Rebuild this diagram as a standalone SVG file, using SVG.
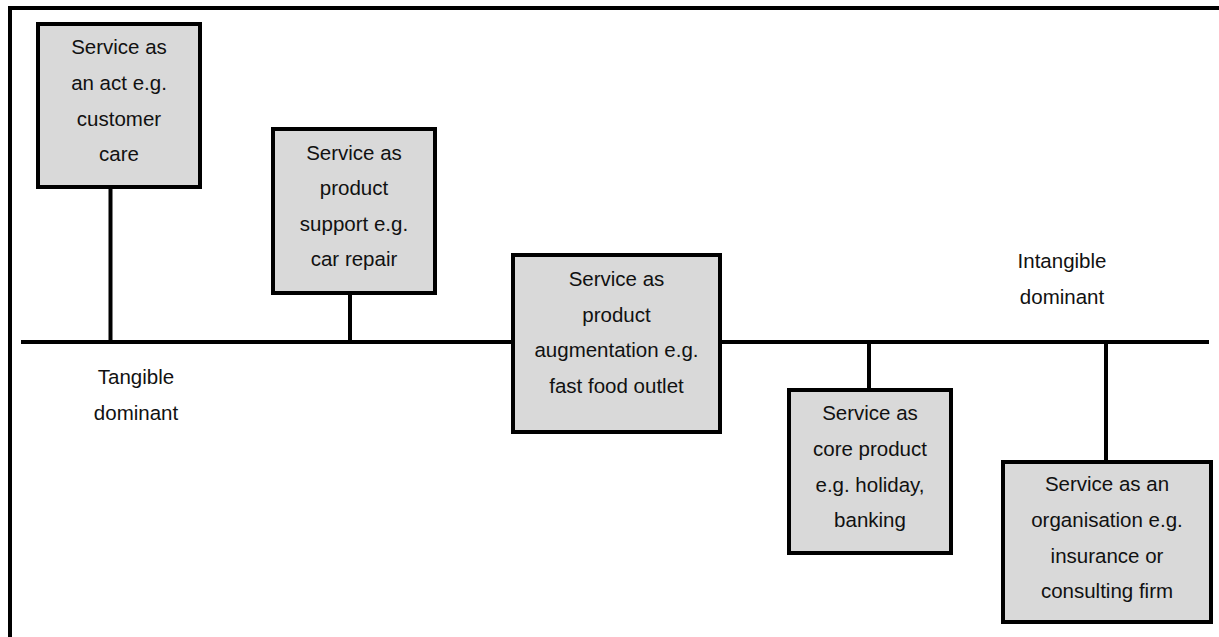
<svg xmlns="http://www.w3.org/2000/svg" width="1219" height="637" viewBox="0 0 1219 637">
  <style>
    .box { fill: #d9d9d9; stroke: #000; stroke-width: 4; }
    .line { stroke: #000; stroke-width: 4; fill: none; }
    text { font-family: "Liberation Sans", Arial, sans-serif; font-size: 20.5px; fill: #111; text-anchor: middle; }
  </style>
  <rect width="1219" height="637" fill="#fff"/>
  <!-- open frame: top and left edges -->
  <path class="line" d="M10 637 V8 H1219"/>

  <g id="connectors">
    <line class="line" x1="21" y1="342" x2="1209" y2="342"/>
    <line class="line" x1="110.5" y1="189" x2="110.5" y2="342"/>
    <line class="line" x1="350" y1="295" x2="350" y2="342"/>
    <line class="line" x1="869" y1="342" x2="869" y2="388"/>
    <line class="line" x1="1106" y1="342" x2="1106" y2="460"/>
  </g>

  <g id="label-tangible">
    <text x="136" y="384">Tangible</text>
    <text x="136" y="420">dominant</text>
  </g>
  <g id="label-intangible">
    <text x="1062" y="268">Intangible</text>
    <text x="1062" y="304">dominant</text>
  </g>

  <g id="node-act">
    <rect class="box" x="38" y="24" width="162" height="163"/>
    <text x="119" y="54">Service as</text>
    <text x="119" y="90">an act e.g.</text>
    <text x="119" y="126">customer</text>
    <text x="119" y="161">care</text>
  </g>

  <g id="node-support">
    <rect class="box" x="273" y="129" width="162" height="164"/>
    <text x="354" y="160">Service as</text>
    <text x="354" y="195">product</text>
    <text x="354" y="231">support e.g.</text>
    <text x="354" y="266">car repair</text>
  </g>

  <g id="node-augmentation">
    <rect class="box" x="513" y="255" width="207" height="177"/>
    <text x="616.5" y="286">Service as</text>
    <text x="616.5" y="322">product</text>
    <text x="616.5" y="357">augmentation e.g.</text>
    <text x="616.5" y="393">fast food outlet</text>
  </g>

  <g id="node-core">
    <rect class="box" x="789" y="390" width="162" height="163"/>
    <text x="870" y="420">Service as</text>
    <text x="870" y="456">core product</text>
    <text x="870" y="492">e.g. holiday,</text>
    <text x="870" y="527">banking</text>
  </g>

  <g id="node-organisation">
    <rect class="box" x="1003" y="462" width="208" height="160"/>
    <text x="1107" y="491">Service as an</text>
    <text x="1107" y="527">organisation e.g.</text>
    <text x="1107" y="563">insurance or</text>
    <text x="1107" y="598">consulting firm</text>
  </g>
</svg>
